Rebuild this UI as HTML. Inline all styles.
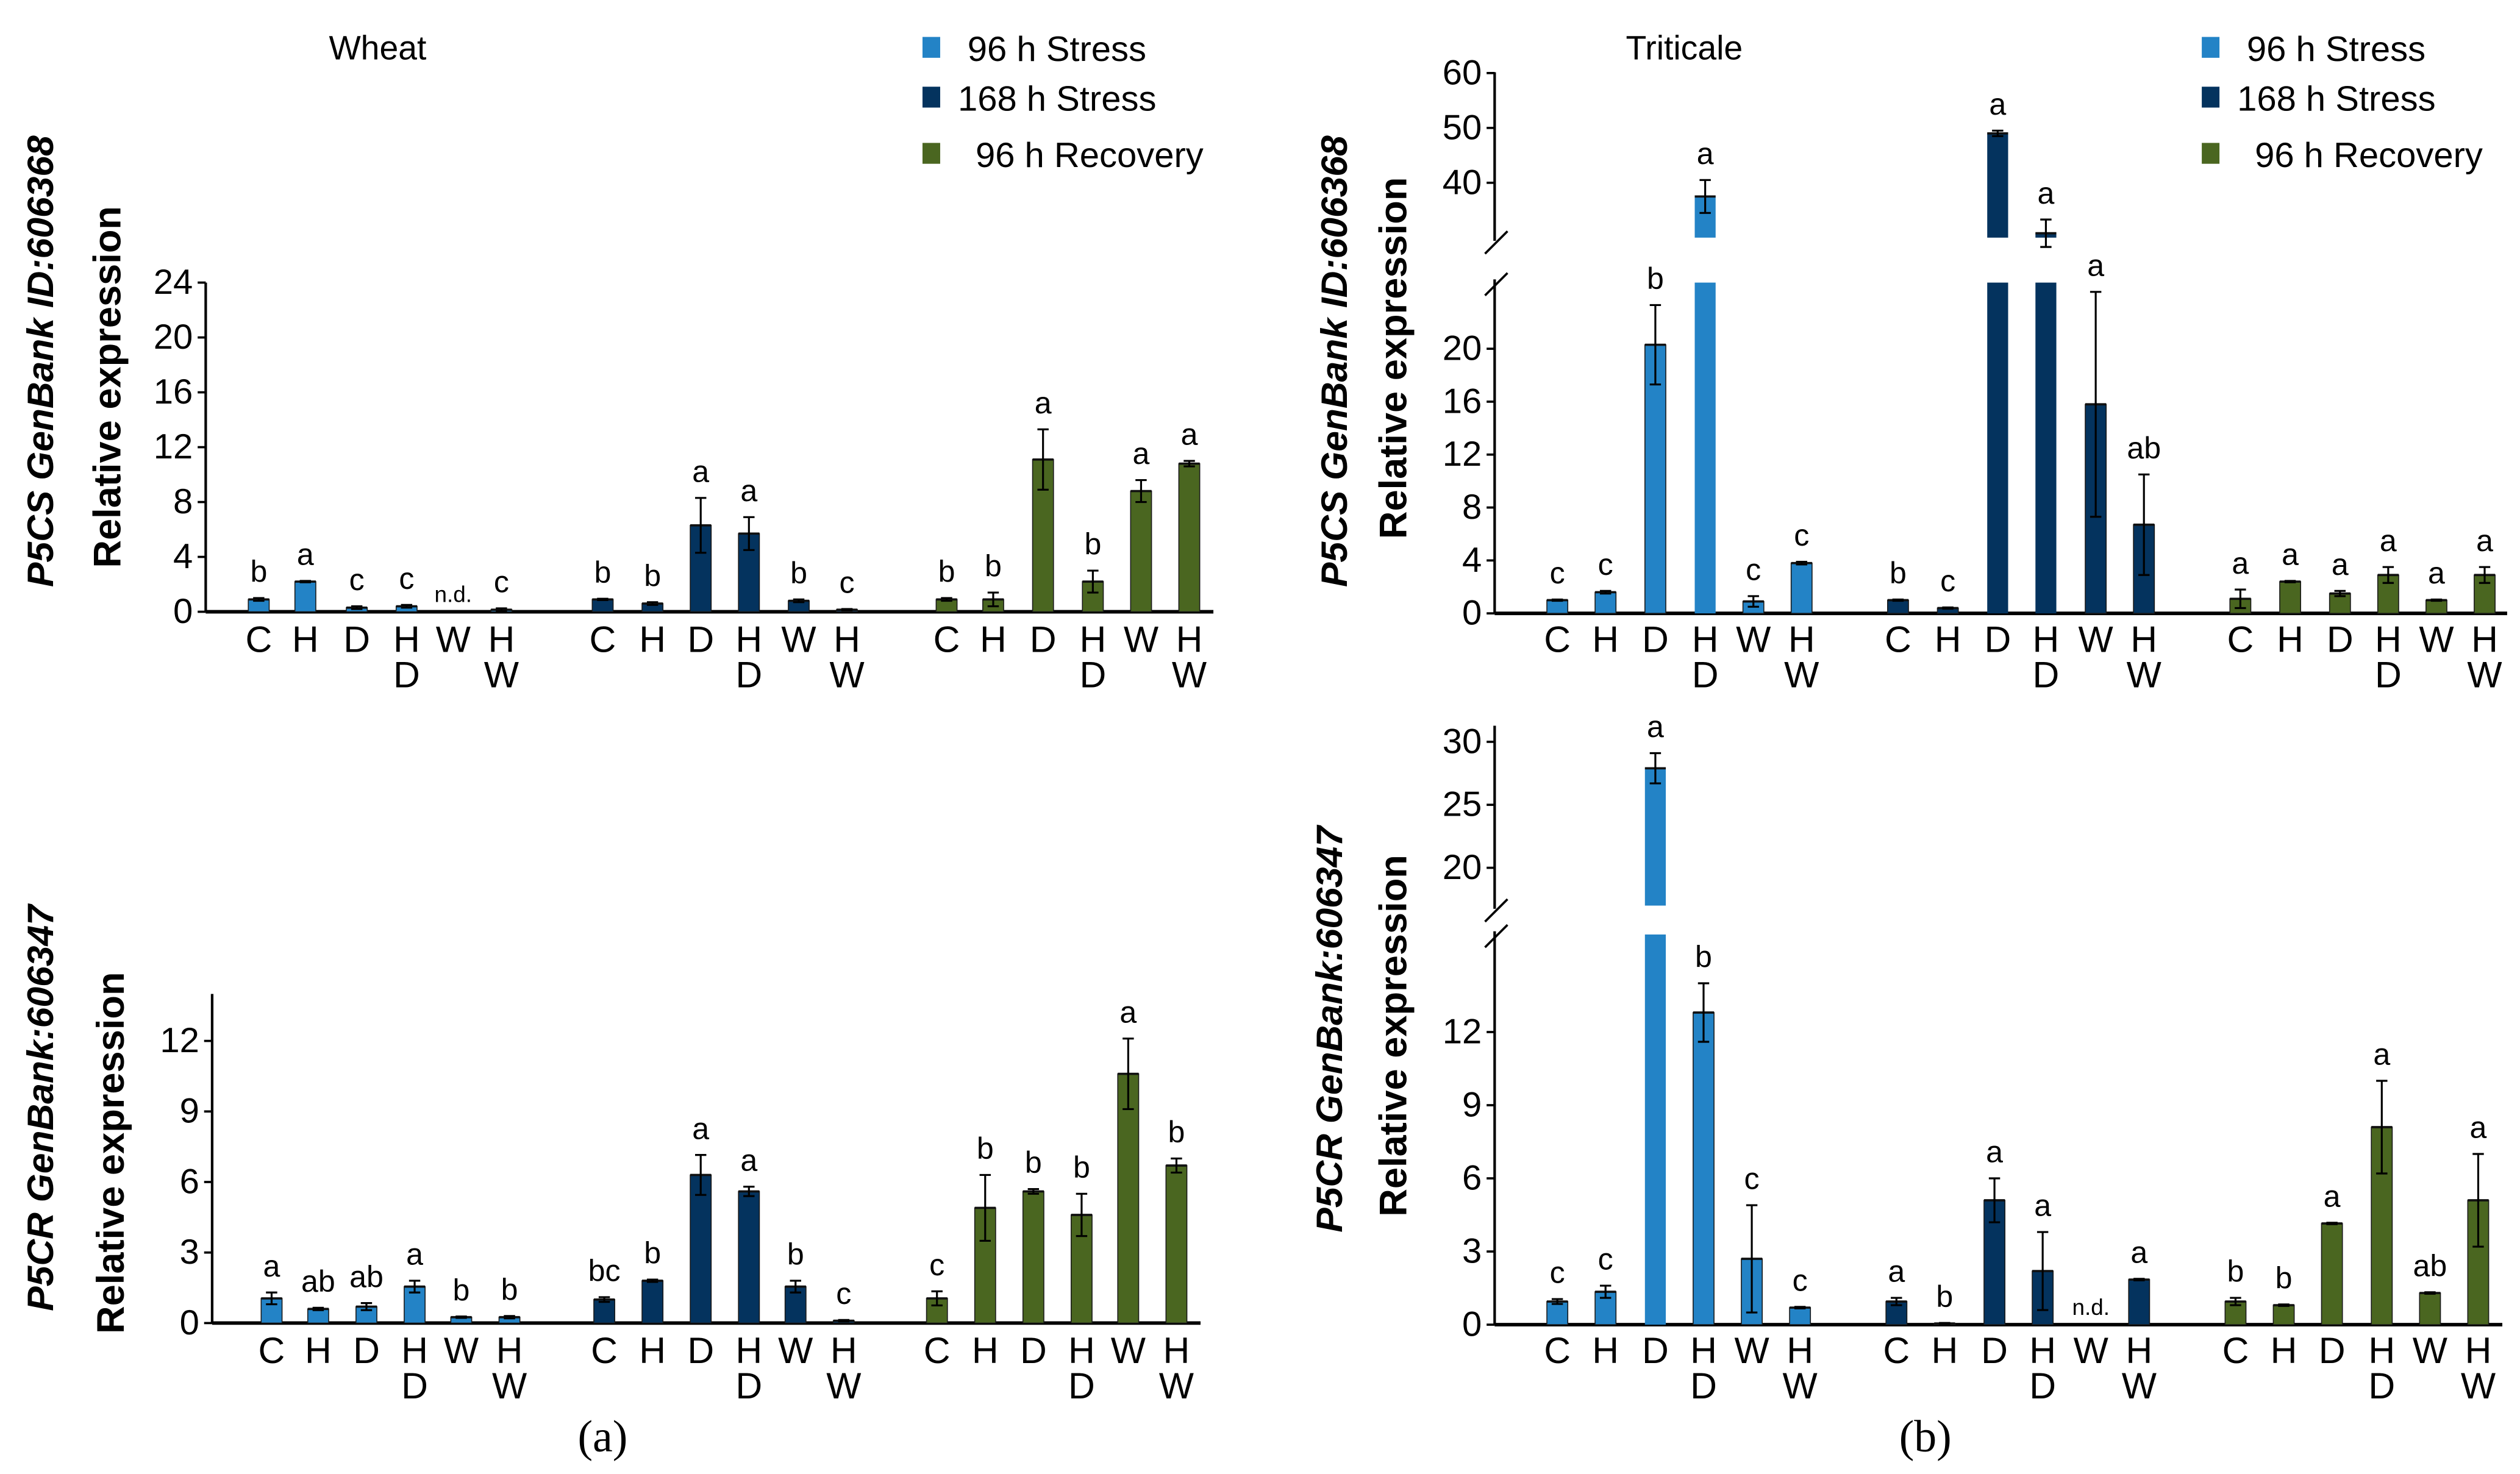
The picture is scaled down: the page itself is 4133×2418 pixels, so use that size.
<!DOCTYPE html>
<html><head><meta charset="utf-8"><style>
html,body{margin:0;padding:0;background:#fff}
svg{display:block}
text{font-family:"Liberation Sans",sans-serif;fill:#000}
</style></head><body>
<svg id="fig" width="4133" height="2418" viewBox="0 0 1568 918" preserveAspectRatio="none" xmlns="http://www.w3.org/2000/svg">
<rect width="1568" height="918" fill="#fff"/>
<text x="235" y="37" font-size="21" text-anchor="middle">Wheat</text>
<text x="1048" y="37" font-size="21" text-anchor="middle">Triticale</text>
<text x="375" y="904" font-size="28" text-anchor="middle" style="font-family:'Liberation Serif',serif">(a)</text>
<text x="1198" y="904" font-size="28" text-anchor="middle" style="font-family:'Liberation Serif',serif">(b)</text>
<g id="legendA"></g>
<g id="legendB"></g>
</svg>
<script>
// ---- data ----
const categories = ["C","H","D","HD","W","HW"];
const seriesNames = ["96 h Stress","168 h Stress","96 h Recovery"];
// Wheat P5CS
const wheatP5CS_s96 = [0.9,2.2,0.3,0.4,0,0.15];
const wheatP5CS_s168 = [0.9,0.6,6.3,5.7,0.8,0.15];
const wheatP5CS_r96 = [0.9,0.9,11.1,2.2,8.8,10.8];
const wheatP5CS_err96 = [0.1,0.05,0.1,0.1,0,0.1];
const wheatP5CS_err168 = [0.05,0.1,2.0,1.2,0.1,0.05];
const wheatP5CS_errR = [0.1,0.5,2.2,0.8,0.8,0.2];
const wheatP5CS_let96 = ["b","a","c","c","n.d.","c"];
const wheatP5CS_let168 = ["b","b","a","a","b","c"];
const wheatP5CS_letR = ["b","b","a","b","a","a"];
const wheatP5CS_ticks = [0,4,8,12,16,20,24];
// Wheat P5CR
const wheatP5CR_s96 = [1.05,0.6,0.7,1.55,0.25,0.25];
const wheatP5CR_s168 = [1.0,1.8,6.3,5.6,1.55,0.1];
const wheatP5CR_r96 = [1.05,4.9,5.6,4.6,10.6,6.7];
const wheatP5CR_err96 = [0.25,0.05,0.15,0.25,0.03,0.05];
const wheatP5CR_err168 = [0.1,0.05,0.85,0.2,0.25,0.03];
const wheatP5CR_errR = [0.3,1.4,0.1,0.9,1.5,0.3];
const wheatP5CR_let96 = ["a","ab","ab","a","b","b"];
const wheatP5CR_let168 = ["bc","b","a","a","b","c"];
const wheatP5CR_letR = ["c","b","b","b","a","b"];
const wheatP5CR_ticks = [0,3,6,9,12];
// Triticale P5CS
const tritP5CS_s96 = [1.0,1.6,20.3,37.5,0.9,3.8];
const tritP5CS_s168 = [1.0,0.4,49,30.8,15.8,6.7];
const tritP5CS_r96 = [1.1,2.4,1.5,2.9,1.0,2.9];
const tritP5CS_err96 = [0.05,0.1,3.0,3.0,0.4,0.1];
const tritP5CS_err168 = [0.05,0.05,0.5,2.5,8.5,3.8];
const tritP5CS_errR = [0.7,0.05,0.2,0.6,0.05,0.6];
const tritP5CS_let96 = ["c","c","b","a","c","c"];
const tritP5CS_let168 = ["b","c","a","a","a","ab"];
const tritP5CS_letR = ["a","a","a","a","a","a"];
const tritP5CS_ticks = [0,4,8,12,16,20,40,50,60];
// Triticale P5CR
const tritP5CR_s96 = [0.95,1.35,27.9,12.8,2.7,0.7];
const tritP5CR_s168 = [0.95,0.05,5.1,2.2,0,1.85];
const tritP5CR_r96 = [0.95,0.8,4.15,8.1,1.3,5.1];
const tritP5CR_err96 = [0.1,0.25,1.2,1.2,2.2,0.03];
const tritP5CR_err168 = [0.15,0.02,0.9,1.6,0,0.03];
const tritP5CR_errR = [0.15,0.03,0.03,1.9,0.03,1.9];
const tritP5CR_let96 = ["c","c","a","b","c","c"];
const tritP5CR_let168 = ["a","b","a","a","n.d.","a"];
const tritP5CR_letR = ["b","b","a","a","ab","a"];
const tritP5CR_ticks = [0,3,6,9,12,20,25,30];

const COLORS = ["#2383c6","#04335e","#4a6620"];
const NS = "http://www.w3.org/2000/svg";
const svg = document.getElementById("fig");
function mk(tag, attrs, parent){const e=document.createElementNS(NS,tag);for(const k in attrs)e.setAttribute(k,attrs[k]);(parent||svg).appendChild(e);return e;}

function makeScale(segs){
  return function(v){
    for(const s of segs){ if(v>=s.v0-1e-9 && v<=s.v1+1e-9) return s.y0+(v-s.v0)*(s.y1-s.y0)/(s.v1-s.v0); }
    const s=segs[segs.length-1]; return s.y0+(v-s.v0)*(s.y1-s.y0)/(s.v1-s.v0);
  };
}

function drawPanel(p){
  const g = mk("g",{});
  
  
  const y = makeScale(p.segs);
  const base = p.segs[0].y0;
  const yax = mk("line",{x1:p.ax,x2:p.ax,y1:p.axTop,y2:base,stroke:"#000","stroke-width":1.6},g);
  
  
  const xax = mk("line",{x1:p.ax,x2:p.axEnd,y1:base,y2:base,stroke:"#000","stroke-width":2.2},g);
  
  
  if(p.segs.length>1){
    const yTopLow=p.segs[0].y1, yBotUp=p.segs[1].y0;
    mk("rect",{x:p.ax-2,y:yBotUp+2,width:4,height:yTopLow-yBotUp-4,fill:"#fff"},g);
    const b1=mk("line",{x1:p.ax-6,y1:yBotUp+10,x2:p.ax+8,y2:yBotUp-4,stroke:"#000","stroke-width":1.4},g);
    
    
    const b2=mk("line",{x1:p.ax-6,y1:yTopLow+8,x2:p.ax+8,y2:yTopLow-6,stroke:"#000","stroke-width":1.4},g);
    
    
  }
  for(const t of p.ticks){
    const ty=y(t);
    mk("line",{x1:p.ax-5,x2:p.ax,y1:ty,y2:ty,stroke:"#000","stroke-width":1.4},g);
    const tl=mk("text",{x:p.ax-8,y:ty+7,"font-size":22,"text-anchor":"end"},g);
    tl.textContent=t;
    
    
  }
  const t1=mk("text",{x:0,y:0,"font-size":23,"font-style":"italic","font-weight":"bold","text-anchor":"middle",transform:`translate(${p.t1x},${p.t1y}) rotate(-90)`},g);
  t1.textContent=p.gene+" "+p.gb;
  
  
  const t2=mk("text",{x:0,y:0,"font-size":24,"font-weight":"bold","text-anchor":"middle",transform:`translate(${p.t2x},${p.t2y}) rotate(-90)`},g);
  t2.textContent="Relative expression";
  
  
  const bw=13;
  for(let s=0;s<3;s++){
    for(let i=0;i<6;i++){
      const v=p.vals[s][i], e=p.errs[s][i], cx=p.xs[s][i];
      if(v>0){
        if(p.segs.length>1 && v>p.segs[0].v1){
          const yTopLow=p.segs[0].y1, yBotUp=p.segs[1].y0;
          const r1=mk("rect",{x:cx-bw/2,y:yTopLow,width:bw,height:base-yTopLow,fill:COLORS[s]},g);
          
          
          const r2=mk("rect",{x:cx-bw/2,y:y(v),width:bw,height:Math.max(0,yBotUp-y(v)),fill:COLORS[s]},g);
          
          
          mk("line",{x1:cx-bw/2,x2:cx+bw/2,y1:y(v),y2:y(v),stroke:"#111","stroke-width":1.4},g);
        } else {
          const r=mk("rect",{x:cx-bw/2,y:y(v),width:bw,height:base-y(v),fill:COLORS[s],stroke:"#1a1a1a","stroke-width":0.6},g);
          
          
          mk("line",{x1:cx-bw/2,x2:cx+bw/2,y1:y(v),y2:y(v),stroke:"#111","stroke-width":1.4},g);
        }
        if(e>0){
          const yt=y(v+e), yb=y(Math.max(0,v-e));
          const eb=mk("path",{d:`M${cx},${yt}V${yb}M${cx-3.5},${yt}H${cx+3.5}M${cx-3.5},${yb}H${cx+3.5}`,stroke:"#000","stroke-width":1.2,fill:"none"},g);
          
          
        }
      }
      const lab=p.lets[s][i];
      const top = v>0 ? y(v+e) : base;
      const lt=mk("text",{x:cx,y:lab==="n.d."?base-6:top-10,"font-size":lab==="n.d."?14:19,"text-anchor":"middle"},g);
      lt.textContent=lab;
      
      
      const c=categories[i];
      const cl=mk("text",{x:cx,y:p.labY,"font-size":23,"text-anchor":"middle"},g);
      cl.textContent=c[0];
      
      
      if(c.length>1){
        const cl2=mk("text",{x:cx,y:p.labY+22,"font-size":23,"text-anchor":"middle"},g);
        cl2.textContent=c[1];
        
        
      }
    }
  }
}

drawPanel({name:"wheat-p5cs-chart",ax:128,axEnd:755,axTop:176,
  segs:[{v0:0,v1:24,y0:381,y1:176}],ticks:wheatP5CS_ticks,
  vals:[wheatP5CS_s96,wheatP5CS_s168,wheatP5CS_r96],errs:[wheatP5CS_err96,wheatP5CS_err168,wheatP5CS_errR],
  lets:[wheatP5CS_let96,wheatP5CS_let168,wheatP5CS_letR],
  xs:[[161,190,222,253,282,312],[375,406,436,466,497,527],[589,618,649,680,710,740]],
  labY:406,gene:"P5CS",gb:"GenBank ID:606368",t1x:33,t1y:225,t2x:75,t2y:241});
drawPanel({name:"wheat-p5cr-chart",ax:132,axEnd:747,axTop:619,
  segs:[{v0:0,v1:14,y0:824,y1:619}],ticks:wheatP5CR_ticks,
  vals:[wheatP5CR_s96,wheatP5CR_s168,wheatP5CR_r96],errs:[wheatP5CR_err96,wheatP5CR_err168,wheatP5CR_errR],
  lets:[wheatP5CR_let96,wheatP5CR_let168,wheatP5CR_letR],
  xs:[[169,198,228,258,287,317],[376,406,436,466,495,525],[583,613,643,673,702,732]],
  labY:849,gene:"P5CR",gb:"GenBank:606347",t1x:33,t1y:690,t2x:77,t2y:718});
drawPanel({name:"triticale-p5cs-chart",ax:930,axEnd:1560,axTop:45,
  segs:[{v0:0,v1:25,y0:382,y1:176},{v0:30,v1:60,y0:148,y1:45.5}],ticks:tritP5CS_ticks,
  vals:[tritP5CS_s96,tritP5CS_s168,tritP5CS_r96],errs:[tritP5CS_err96,tritP5CS_err168,tritP5CS_errR],
  lets:[tritP5CS_let96,tritP5CS_let168,tritP5CS_letR],
  xs:[[969,999,1030,1061,1091,1121],[1181,1212,1243,1273,1304,1334],[1394,1425,1456,1486,1516,1546]],
  labY:406,gene:"P5CS",gb:"GenBank ID:606368",t1x:838,t1y:225,t2x:875,t2y:223});
drawPanel({name:"triticale-p5cr-chart",ax:930,axEnd:1557,axTop:452,
  segs:[{v0:0,v1:16,y0:825,y1:582},{v0:17,v1:30,y0:564,y1:462}],ticks:tritP5CR_ticks,
  vals:[tritP5CR_s96,tritP5CR_s168,tritP5CR_r96],errs:[tritP5CR_err96,tritP5CR_err168,tritP5CR_errR],
  lets:[tritP5CR_let96,tritP5CR_let168,tritP5CR_letR],
  xs:[[969,999,1030,1060,1090,1120],[1180,1210,1241,1271,1301,1331],[1391,1421,1451,1482,1512,1542]],
  labY:849,gene:"P5CR",gb:"GenBank:606347",t1x:835,t1y:641,t2x:875,t2y:645});

function legend(id,sx,tx){
  const g=document.getElementById(id);
  const ys=[30,61,96];
  for(let s=0;s<3;s++){
    const r=mk("rect",{x:sx,y:ys[s]-7,width:11,height:13,fill:COLORS[s]},g);
    
    
    const t=mk("text",{x:tx+(s===2?5:0)+(s===1?-6:0),y:ys[s]+8,"font-size":22},g);
    t.textContent=seriesNames[s];
    
    
  }
}
legend("legendA",574,602);
legend("legendB",1370,1398);
</script>
</body></html>
